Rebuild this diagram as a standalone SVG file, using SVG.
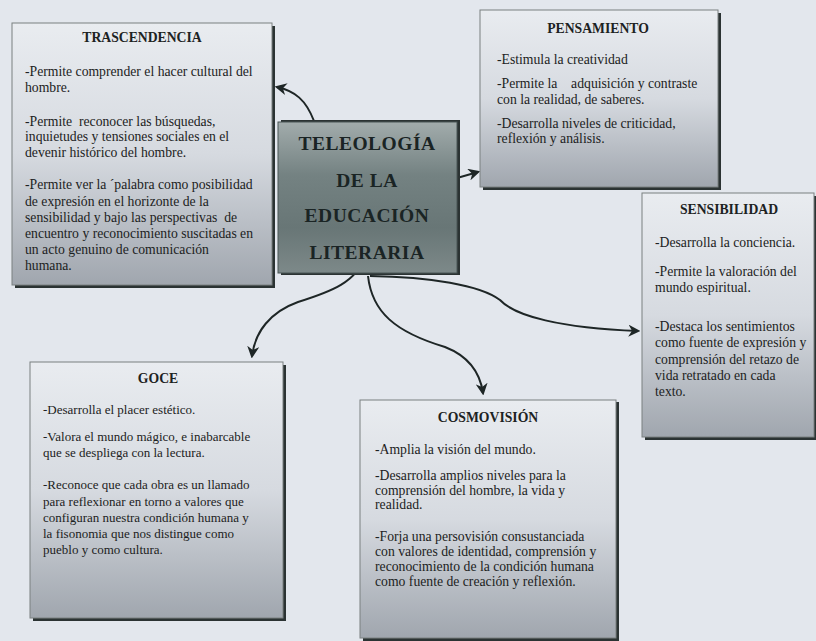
<svg xmlns="http://www.w3.org/2000/svg" width="816" height="641" viewBox="0 0 816 641">
<defs>
<linearGradient id="gBox" x1="0" y1="0" x2="0" y2="1">
<stop offset="0" stop-color="#e9ecf0"/>
<stop offset="0.5" stop-color="#d6dae0"/>
<stop offset="1" stop-color="#a0a6ae"/>
</linearGradient>
<linearGradient id="gCenter" x1="0" y1="0" x2="0" y2="1">
<stop offset="0" stop-color="#a2acac"/>
<stop offset="0.35" stop-color="#748282"/>
<stop offset="0.7" stop-color="#687676"/>
<stop offset="1" stop-color="#7d8989"/>
</linearGradient>
<marker id="arr" viewBox="0 0 10 10" refX="8" refY="5" markerWidth="6" markerHeight="6" orient="auto" markerUnits="strokeWidth">
<path d="M0,0 L10,5 L0,10 L3,5 z" fill="#1e2626"/>
</marker>
</defs>
<style>
.shadow{fill:#2b3333}
.box{fill:url(#gBox);stroke:#7a8080;stroke-width:1}
.title{font-family:"Liberation Serif","Times New Roman",serif;font-weight:bold;font-size:13.7px;fill:#1c2222;text-anchor:middle}
text{white-space:pre}
.t{font-family:"Liberation Serif","Times New Roman",serif;font-size:13.7px;fill:#1c2222}
.g{font-size:13px}
.ct{font-family:"Liberation Serif","Times New Roman",serif;font-weight:bold;font-size:19.5px;fill:#1a2424;text-anchor:middle;letter-spacing:0.5px}
.con{fill:none;stroke:#1e2626;stroke-width:2;marker-end:url(#arr)}
</style>
<rect width="816" height="641" fill="#e3e7ed"/>

<g id="connectors">
<path class="con" d="M314,121 C306,100 295,91 277,87"/>
<path class="con" d="M457,178 L478,172"/>
<path class="con" d="M365,255 C358,282 330,292 298,302 C270,312 255,332 252,356"/>
<path class="con" d="M368,276 C372,312 395,332 445,347 C468,356 480,372 483,393"/>
<path class="con" d="M370,276 C430,277 480,285 500,300 C515,316 560,328 638,331"/>
</g>

<g id="trascendencia">
<rect class="shadow" x="15" y="26" width="260" height="262"/>
<rect class="box" x="12" y="23" width="260" height="262"/>
<text class="title" x="142" y="42">TRASCENDENCIA</text>
<text class="t" x="25" y="76">-Permite comprender el hacer cultural del</text>
<text class="t" x="25" y="92">hombre.</text>
<text class="t" x="25" y="126">-Permite  reconocer las búsquedas,</text>
<text class="t" x="25" y="141">inquietudes y tensiones sociales en el</text>
<text class="t" x="25" y="157">devenir histórico del hombre.</text>
<text class="t" x="25" y="189">-Permite ver la ´palabra como posibilidad</text>
<text class="t" x="25" y="206">de expresión en el horizonte de la</text>
<text class="t" x="25" y="222">sensibilidad y bajo las perspectivas  de</text>
<text class="t" x="25" y="238">encuentro y reconocimiento suscitadas en</text>
<text class="t" x="25" y="254">un acto genuino de comunicación</text>
<text class="t" x="25" y="270">humana.</text>
</g>

<g id="teleologia">
<rect class="shadow" x="281" y="120" width="179" height="155"/>
<rect x="278" y="122" width="179" height="151" fill="url(#gCenter)" stroke="#4a5656" stroke-width="1"/>
<text class="ct" x="367" y="150">TELEOLOGÍA</text>
<text class="ct" x="367" y="187">DE LA</text>
<text class="ct" x="367" y="222">EDUCACIÓN</text>
<text class="ct" x="367" y="259">LITERARIA</text>
</g>

<g id="pensamiento">
<rect class="shadow" x="483" y="13" width="238" height="177"/>
<rect class="box" x="480" y="10" width="238" height="177"/>
<text class="title" x="598" y="33">PENSAMIENTO</text>
<text class="t" x="497" y="64">-Estimula la creatividad</text>
<text class="t" x="497" y="88">-Permite la    adquisición y contraste</text>
<text class="t" x="497" y="104">con la realidad, de saberes.</text>
<text class="t" x="497" y="128">-Desarrolla niveles de criticidad,</text>
<text class="t" x="497" y="143">reflexión y análisis.</text>
</g>

<g id="sensibilidad">
<rect class="shadow" x="645" y="196" width="172" height="244"/>
<rect class="box" x="642" y="193" width="172" height="244"/>
<text class="title" x="729" y="214">SENSIBILIDAD</text>
<text class="t" x="655" y="247">-Desarrolla la conciencia.</text>
<text class="t" x="655" y="276">-Permite la valoración del</text>
<text class="t" x="655" y="292">mundo espiritual.</text>
<text class="t" x="655" y="331">-Destaca los sentimientos</text>
<text class="t" x="655" y="347">como fuente de expresión y</text>
<text class="t" x="655" y="364">comprensión del retazo de</text>
<text class="t" x="655" y="380">vida retratado en cada</text>
<text class="t" x="655" y="396">texto.</text>
</g>

<g id="goce">
<rect class="shadow" x="33" y="365" width="253" height="256"/>
<rect class="box" x="30" y="362" width="253" height="256"/>
<text class="title" x="158" y="383">GOCE</text>
<text class="t g" x="43" y="414">-Desarrolla el placer estético.</text>
<text class="t g" x="43" y="441">-Valora el mundo mágico, e inabarcable</text>
<text class="t g" x="43" y="457">que se despliega con la lectura.</text>
<text class="t g" x="43" y="489">-Reconoce que cada obra es un llamado</text>
<text class="t g" x="43" y="506">para reflexionar en torno a valores que</text>
<text class="t g" x="43" y="522">configuran nuestra condición humana y</text>
<text class="t g" x="43" y="538">la fisonomia que nos distingue como</text>
<text class="t g" x="43" y="554">pueblo y como cultura.</text>
</g>

<g id="cosmovision">
<rect class="shadow" x="363" y="402" width="256" height="240"/>
<rect class="box" x="360" y="400" width="256" height="238"/>
<text class="title" x="488" y="422">COSMOVISIÓN</text>
<text class="t" x="375" y="454">-Amplia la visión del mundo.</text>
<text class="t" x="375" y="480">-Desarrolla amplios niveles para la</text>
<text class="t" x="375" y="495">comprensión del hombre, la vida y</text>
<text class="t" x="375" y="509">realidad.</text>
<text class="t" x="375" y="541">-Forja una persovisión consustanciada</text>
<text class="t" x="375" y="556">con valores de identidad, comprensión y</text>
<text class="t" x="375" y="571">reconocimiento de la condición humana</text>
<text class="t" x="375" y="586">como fuente de creación y reflexión.</text>
</g>
</svg>
